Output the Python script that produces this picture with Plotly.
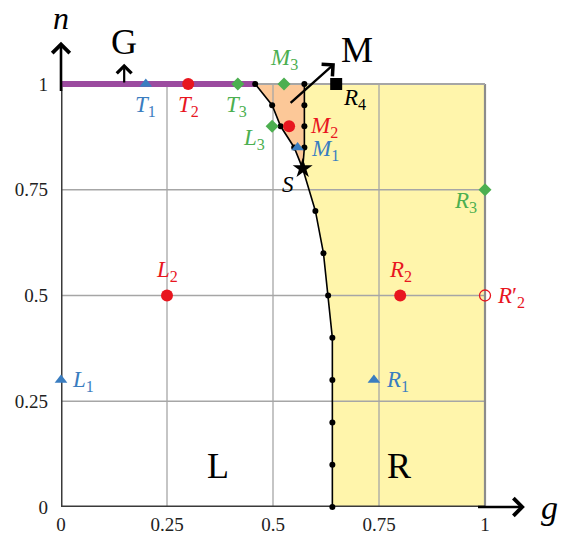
import plotly.graph_objects as go

# ---- data -------------------------------------------------------------
# L/R boundary below the special point S
lower_g = [0.570, 0.600, 0.619, 0.630, 0.640, 0.640, 0.640, 0.640, 0.640]
lower_n = [0.80, 0.70, 0.60, 0.50, 0.40, 0.30, 0.20, 0.10, 0.00]
# left and right edges of the M pocket (top to S)
mleft_g = [0.458, 0.498, 0.518, 0.550, 0.570]
mleft_n = [1.00, 0.95, 0.90, 0.85, 0.80]
mright_g = [0.574, 0.574, 0.574, 0.574, 0.570]
mright_n = [1.00, 0.95, 0.90, 0.85, 0.80]

# labelled sample points
blue_names = ["T1", "M1", "L1", "R1"]
blue_g = [0.200, 0.558, 0.000, 0.738]
blue_n = [1.00, 0.85, 0.30, 0.30]
red_names = ["T2", "M2", "L2", "R2"]
red_g = [0.300, 0.538, 0.250, 0.800]
red_n = [1.00, 0.90, 0.50, 0.50]
green_names = ["T3", "M3", "L3", "R3"]
green_g = [0.417, 0.526, 0.498, 1.000]
green_n = [1.00, 1.00, 0.90, 0.75]
open_names = ["R2p"]
open_g = [1.000]
open_n = [0.50]
square_names = ["R4"]
square_g = [0.649]
square_n = [1.00]
star_names = ["S"]
star_g = [0.570]
star_n = [0.80]

grid_vals = [0.25, 0.5, 0.75, 1.0]
tick_vals = [0, 0.25, 0.5, 0.75, 1]
tick_text = ["0", "0.25", "0.5", "0.75", "1"]

# ---- styles -----------------------------------------------------------
SERIF = "Liberation Serif"
BLUE = "#3a7dc0"
RED = "#e8161f"
GREEN = "#4caf50"
PURPLE = "#9b4b9f"
YELLOW = "#fff5ab"
ORANGE = "#fcc898"
GRID = "#a6a6a6"

fig = go.Figure()

# R region (yellow): right of the boundary, up to g = 1
yel_g = [mright_g[0]] + mright_g[1:] + lower_g[1:] + [1.0, 1.0]
yel_n = [mright_n[0]] + mright_n[1:] + lower_n[1:] + [0.0, 1.0]
fig.add_trace(go.Scatter(x=yel_g, y=yel_n, fill="toself", fillcolor=YELLOW,
                         mode="lines", line=dict(width=0), hoverinfo="skip"))
# M region (orange)
org_g = mleft_g + mright_g[::-1]
org_n = mleft_n + mright_n[::-1]
fig.add_trace(go.Scatter(x=org_g, y=org_n, fill="toself", fillcolor=ORANGE,
                         mode="lines", line=dict(width=0), hoverinfo="skip"))

# grid lines inside the unit square
for v in grid_vals:
    w = 2.2 if v == 1.0 else 1.3
    c = "#8c8c8c" if v == 1.0 else GRID
    fig.add_trace(go.Scatter(x=[v, v], y=[0, 1], mode="lines",
                             line=dict(color=c, width=w), hoverinfo="skip"))
    fig.add_trace(go.Scatter(x=[0, 1], y=[v, v], mode="lines",
                             line=dict(color=GRID, width=1.3 if v < 1 else 1.8),
                             hoverinfo="skip"))

# axes lines
fig.add_trace(go.Scatter(x=[0, 0], y=[0, 1.0], mode="lines",
                         line=dict(color="#3a3a3a", width=3), hoverinfo="skip"))
fig.add_trace(go.Scatter(x=[0, 1.0], y=[0, 0], mode="lines",
                         line=dict(color="#3a3a3a", width=3), hoverinfo="skip"))

# G phase: the n = 1 segment left of the M pocket
fig.add_trace(go.Scatter(x=[0, mleft_g[0]], y=[1, 1], mode="lines",
                         line=dict(color=PURPLE, width=6), hoverinfo="skip"))

# phase boundaries with their computed points
for gs, ns in [(mleft_g, mleft_n), (mright_g, mright_n), (lower_g, lower_n)]:
    fig.add_trace(go.Scatter(x=gs, y=ns, mode="lines",
                             line=dict(color="black", width=1.6),
                             hoverinfo="skip", cliponaxis=False))
dot_g = mleft_g[:-1] + mright_g[:-1] + lower_g[1:]
dot_n = mleft_n[:-1] + mright_n[:-1] + lower_n[1:]
fig.add_trace(go.Scatter(x=dot_g, y=dot_n, mode="markers",
                         marker=dict(color="black", size=6),
                         hoverinfo="skip", cliponaxis=False))

# sample points
fig.add_trace(go.Scatter(x=green_g, y=green_n, mode="markers", cliponaxis=False,
                         marker=dict(symbol="diamond", color=GREEN, size=10)))
fig.add_trace(go.Scatter(x=blue_g, y=blue_n, mode="markers", cliponaxis=False,
                         marker=dict(symbol="triangle-up", color=BLUE, size=11)))
fig.add_trace(go.Scatter(x=red_g, y=red_n, mode="markers", cliponaxis=False,
                         marker=dict(symbol="circle", color=RED, size=12)))
fig.add_trace(go.Scatter(x=open_g, y=open_n, mode="markers", cliponaxis=False,
                         marker=dict(symbol="circle-open", color=RED, size=11,
                                     line=dict(width=1.3))))
fig.add_trace(go.Scatter(x=square_g, y=square_n, mode="markers", cliponaxis=False,
                         marker=dict(symbol="square", color="black", size=12)))
fig.add_trace(go.Scatter(x=star_g, y=star_n, mode="markers", cliponaxis=False,
                         marker=dict(symbol="star", color="black", size=15)))

# point labels: text and pixel offset from the point
label_style = {
    "T1": ("<i>T</i><sub>1</sub>", 0, -22), "T2": ("<i>T</i><sub>2</sub>", 0, -22),
    "T3": ("<i>T</i><sub>3</sub>", -1, -22), "M1": ("<i>M</i><sub>1</sub>", 27, -3),
    "M2": ("<i>M</i><sub>2</sub>", 35, -1), "M3": ("<i>M</i><sub>3</sub>", 0, 25),
    "L1": ("<i>L</i><sub>1</sub>", 22, -1), "L2": ("<i>L</i><sub>2</sub>", 0, 25),
    "L3": ("<i>L</i><sub>3</sub>", -18, -13), "R1": ("<i>R</i><sub>1</sub>", 24, -1),
    "R2": ("<i>R</i><sub>2</sub>", 0, 25), "R3": ("<i>R</i><sub>3</sub>", -20, -12),
    "R2p": ("<i>R</i>′<sub>2</sub>", 26, -1), "R4": ("<i>R</i><sub>4</sub>", 18, -15),
    "S": ("<i>S</i>", -15, -16),
}
groups = [(blue_names, blue_g, blue_n, BLUE), (red_names, red_g, red_n, RED),
          (green_names, green_g, green_n, GREEN), (open_names, open_g, open_n, RED),
          (square_names, square_g, square_n, "black"),
          (star_names, star_g, star_n, "black")]
for names, gs, ns, col in groups:
    for nm, gv, nv in zip(names, gs, ns):
        txt, dx, dy = label_style[nm]
        fig.add_annotation(x=gv, y=nv, text=txt, showarrow=False,
                           xshift=dx, yshift=dy,
                           font=dict(family=SERIF, size=23, color=col))

# region letters
for txt, gv, nv in [("L", 0.37, 0.097), ("R", 0.797, 0.097),
                    ("G", 0.149, 1.10), ("M", 0.698, 1.08)]:
    fig.add_annotation(x=gv, y=nv, text=txt, showarrow=False,
                       font=dict(family=SERIF, size=36, color="black"))

# arrows: axes, G and M indicators
def arrow(x0, y0, x1, y1, width, size):
    fig.add_annotation(x=x1, y=y1, ax=x0, ay=y0, xref="x", yref="y",
                       axref="x", ayref="y", text="", showarrow=True,
                       arrowhead=4, arrowwidth=width, arrowsize=size,
                       arrowcolor="black")

arrow(0, 0.98, 0, 1.10, 2.6, 1.3)
arrow(0.98, 0, 1.094, 0, 2.6, 1.3)
arrow(0.149, 1.0, 0.149, 1.048, 2.2, 1.3)
arrow(0.538, 0.952, 0.646, 1.049, 2.4, 1.3)

fig.add_annotation(x=0, y=1.155, text="<i>n</i>", showarrow=False,
                   font=dict(family=SERIF, size=32, color="black"))
fig.add_annotation(x=1.153, y=0.0, text="<i>g</i>", showarrow=False,
                   font=dict(family=SERIF, size=34, color="black"))

fig.update_layout(
    width=563, height=536,
    margin=dict(l=61, r=0, t=0, b=29),
    paper_bgcolor="white", plot_bgcolor="white",
    showlegend=False,
    xaxis=dict(range=[0, 502 / 424], tickvals=tick_vals, ticktext=tick_text,
               showgrid=False, zeroline=False, showline=False, ticks="",
               ticklabelstandoff=4, automargin=False,
               tickfont=dict(family=SERIF, size=19, color="#222222"),
               fixedrange=True),
    yaxis=dict(range=[0, 507 / 423], tickvals=tick_vals, ticktext=tick_text,
               showgrid=False, zeroline=False, showline=False, ticks="",
               ticklabelstandoff=12, automargin=False,
               tickfont=dict(family=SERIF, size=19, color="#222222"),
               fixedrange=True),
)

fig.write_html("out.html")
